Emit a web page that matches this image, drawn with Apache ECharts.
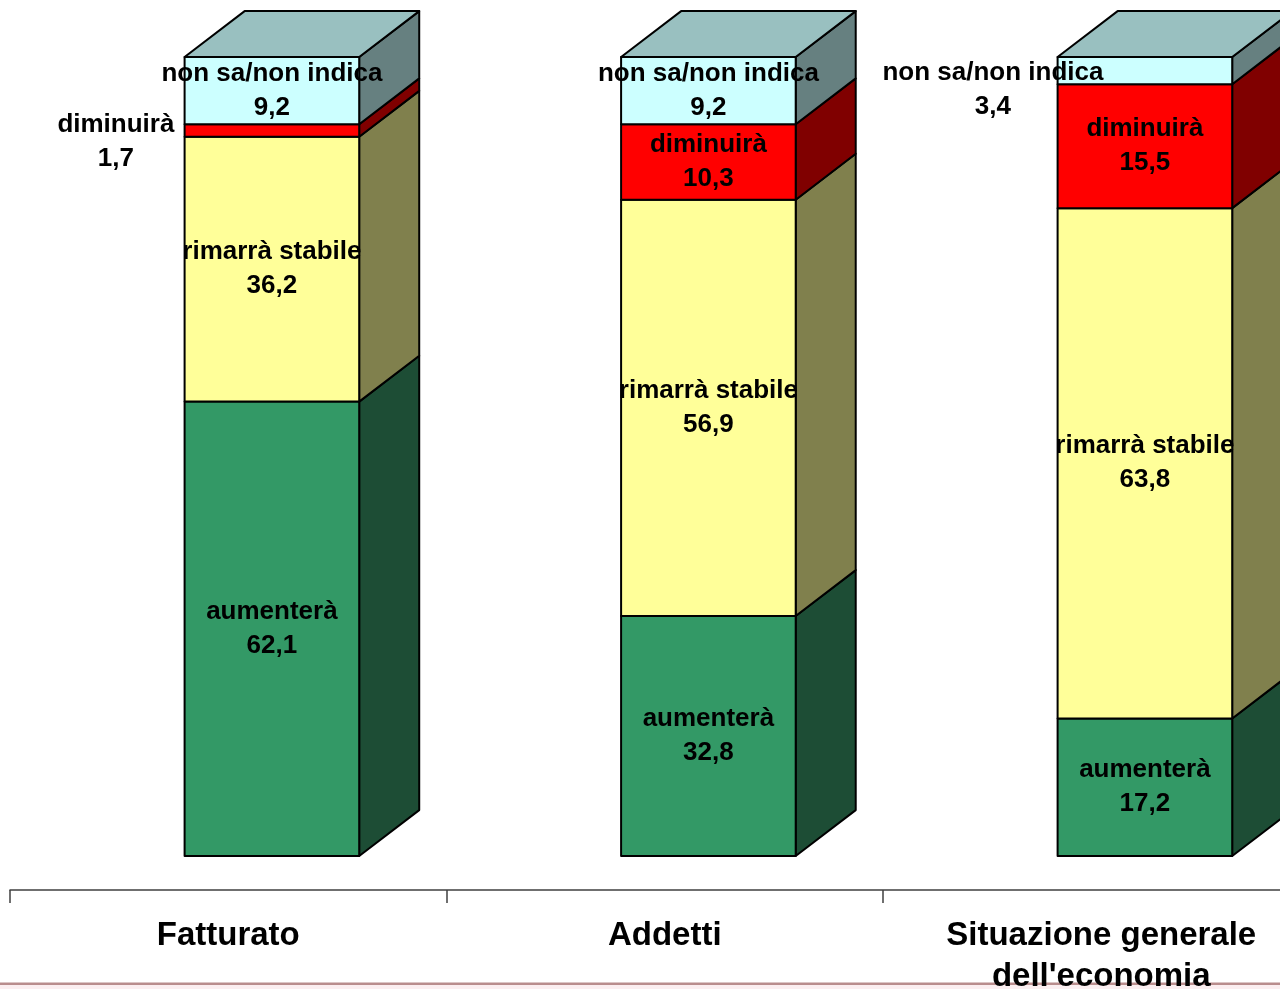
<!DOCTYPE html>
<html>
<head>
<meta charset="utf-8">
<script src="https://cdn.jsdelivr.net/npm/echarts@6/dist/echarts.min.js"></script>
<style>
  html, body { margin: 0; padding: 0; background: #ffffff; }
  #chart { width: 1280px; height: 989px; }
</style>
</head>
<body>
<div id="chart"></div>
<script>
// Categories and answers (values in %, stacked bottom-up)
const categories = ['Fatturato', 'Addetti', "Situazione generale\ndell'economia"];
const seriesNames = ['aumenterà', 'rimarrà stabile', 'diminuirà', 'non sa/non indica'];
const aumentera = [62.1, 32.8, 17.2];
const rimarraStabile = [36.2, 56.9, 63.8];
const diminuira = [1.7, 10.3, 15.5];
const nonSa = [9.2, 9.2, 3.4];
const seriesValues = [aumentera, rimarraStabile, diminuira, nonSa];

// Face colours of the 3D columns
const faceColors = [
  { front: '#339966', side: '#1d4d35' },
  { front: '#ffff99', side: '#80804d' },
  { front: '#ff0000', side: '#800000' },
  { front: '#ccffff', side: '#668080', top: '#99c0c0' }
];

// Labels of thin segments are moved beside the column (px from segment centre)
const labelShift = { '2-0': [-156, 11], '3-2': [-152, 19] };

// Each column is drawn as a 100% stack
const totals = categories.map((c, i) => seriesValues.reduce((s, arr) => s + arr[i], 0));
const shares = seriesValues.map(arr => arr.map((v, i) => v / totals[i] * 100));
const bases = shares.map((arr, si) => arr.map((v, i) =>
  shares.slice(0, si).reduce((s, a) => s + a[i], 0)));
const fmt = v => v.toFixed(1).replace('.', ',');

const FONT = '"Liberation Sans", Arial, Helvetica, sans-serif';

// Geometry of a column segment inside its category band
function geometry(api, ci, base, top) {
  const band = api.size([1, 0])[0];
  const pb = api.coord([ci, base]);
  const pt = api.coord([ci, top]);
  const w = band * 0.4;
  const off = band * 0.1;
  const dx = band * 0.1375;
  const dy = dx * 0.765;
  const x0 = pb[0] + off - w / 2;
  return { x0: x0, x1: x0 + w, yb: pb[1], yt: pt[1], dx: dx, dy: dy };
}

function barRenderer(si) {
  const col = faceColors[si];
  const isTop = si === seriesValues.length - 1;
  return function (params, api) {
    const g = geometry(api, api.value(0), api.value(1), api.value(2));
    const edge = { stroke: '#000000', lineWidth: 2, lineJoin: 'round' };
    const children = [
      {
        type: 'polygon',
        shape: { points: [[g.x1, g.yb], [g.x1 + g.dx, g.yb - g.dy], [g.x1 + g.dx, g.yt - g.dy], [g.x1, g.yt]] },
        style: Object.assign({ fill: col.side }, edge)
      },
      {
        type: 'rect',
        shape: { x: g.x0, y: g.yt, width: g.x1 - g.x0, height: g.yb - g.yt },
        style: Object.assign({ fill: col.front }, edge)
      }
    ];
    if (isTop) {
      children.push({
        type: 'polygon',
        shape: { points: [[g.x0, g.yt], [g.x0 + g.dx, g.yt - g.dy], [g.x1 + g.dx, g.yt - g.dy], [g.x1, g.yt]] },
        style: Object.assign({ fill: col.top }, edge)
      });
    }
    return { type: 'group', children: children };
  };
}

function labelRenderer(params, api) {
  const si = api.value(3), ci = api.value(0);
  const g = geometry(api, ci, api.value(1), api.value(2));
  const sh = labelShift[si + '-' + ci] || [0, 0];
  return {
    type: 'text',
    x: (g.x0 + g.x1) / 2 + sh[0],
    y: (g.yb + g.yt) / 2 + sh[1],
    style: {
      text: seriesNames[si] + '\n' + fmt(api.value(4)),
      font: 'bold 26px ' + FONT,
      lineHeight: 34,
      fill: '#000000',
      align: 'center',
      verticalAlign: 'middle'
    }
  };
}

const series = seriesValues.map((arr, si) => ({
  name: seriesNames[si],
  type: 'custom',
  z: 2,
  renderItem: barRenderer(si),
  encode: { x: 0, y: [1, 2] },
  data: arr.map((v, ci) => [ci, bases[si][ci], bases[si][ci] + shares[si][ci], v]),
  silent: true
}));

const labelData = [];
seriesValues.forEach((arr, si) => arr.forEach((v, ci) => {
  labelData.push([ci, bases[si][ci], bases[si][ci] + shares[si][ci], si, v]);
}));
series.push({
  name: 'etichette',
  type: 'custom',
  z: 4,
  renderItem: labelRenderer,
  encode: { x: 0, y: [1, 2] },
  data: labelData,
  silent: true
});

const chart = echarts.init(document.getElementById('chart'), null, { renderer: 'canvas' });
chart.setOption({
  backgroundColor: '#ffffff',
  animation: false,
  grid: {
    left: 10, top: 57, width: 1309.5, bottom: 133,
    containLabel: false,
    outerBoundsMode: 'none'
  },
  xAxis: {
    type: 'category',
    data: categories,
    boundaryGap: true,
    offset: 34,
    z: 5,
    axisLine: { onZero: false, lineStyle: { color: '#404040', width: 1.5 } },
    axisTick: { show: true, length: 13, lineStyle: { color: '#404040', width: 1.5 } },
    axisLabel: {
      color: '#000000',
      fontFamily: FONT,
      fontWeight: 'bold',
      fontSize: 33,
      lineHeight: 41,
      margin: 25,
      interval: 0
    },
    splitLine: { show: false }
  },
  yAxis: { type: 'value', min: 0, max: 100, show: false },
  graphic: [
    { type: 'rect', z: 0, shape: { x: 0, y: 985, width: 1280, height: 4 }, style: { fill: '#fbeef0' } },
    { type: 'rect', z: 0, shape: { x: 0, y: 982.5, width: 1280, height: 2.5 }, style: { fill: '#b98d8d' } }
  ],
  series: series
});
</script>
</body>
</html>
